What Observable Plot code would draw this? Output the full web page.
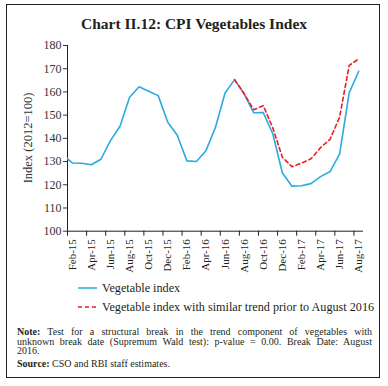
<!DOCTYPE html>
<html><head><meta charset="utf-8">
<script src="https://cdn.jsdelivr.net/npm/d3@7"></script>
<script src="https://cdn.jsdelivr.net/npm/@observablehq/plot@0.6"></script>
<style>
body{margin:0;background:#fff;font-family:"Liberation Serif",serif;color:#231f20;width:388px;height:386px;position:relative;overflow:hidden;}
#frame{position:absolute;left:6px;top:4px;width:372px;height:372px;border:1.4px solid #231f20;}
#title{position:absolute;left:0;width:388px;top:16px;text-align:center;font-weight:bold;font-size:15.5px;line-height:16px;}
#chart{position:absolute;left:0;top:36px;}
#ylabel{position:absolute;left:-42px;top:130.5px;width:140px;height:14px;line-height:14px;text-align:center;font-size:12.5px;color:#333;transform:rotate(-90deg);}
.leg{position:absolute;left:77px;font-size:12.2px;line-height:14px;display:flex;align-items:center;}
.leg svg{margin-right:4px;}
#note{position:absolute;left:17px;width:355px;top:327px;font-size:10px;line-height:9.6px;}
#note .j{text-align:justify;text-align-last:justify;}
#note .src{margin-top:3px;}
</style></head><body>
<div id="frame"></div>
<div id="title">Chart II.12: CPI Vegetables Index</div>
<div id="chart"></div>
<div id="ylabel"></div>
<div class="leg" id="leg1" style="top:281px"></div>
<div class="leg" id="leg2" style="top:300px"></div>
<div id="note">
<div class="j"><b>Note:</b> Test for a structural break in the trend component of vegetables with</div>
<div class="j">unknown break date (Supremum Wald test): p-value = 0.00. Break Date: August</div>
<div>2016.</div>
<div class="src"><b>Source:</b> CSO and RBI staff estimates.</div>
</div>
<script>
const months = ["Jan-15","Feb-15","Mar-15","Apr-15","May-15","Jun-15","Jul-15","Aug-15","Sep-15","Oct-15","Nov-15","Dec-15",
  "Jan-16","Feb-16","Mar-16","Apr-16","May-16","Jun-16","Jul-16","Aug-16","Sep-16","Oct-16","Nov-16","Dec-16",
  "Jan-17","Feb-17","Mar-17","Apr-17","May-17","Jun-17","Jul-17","Aug-17"];
const vegetableIndex = [133.0,129.4,129.3,128.6,131.0,139.0,145.2,157.7,162.2,160.3,158.4,146.9,
  141.3,130.3,130.0,134.7,144.8,159.5,165.3,159.2,151.0,151.1,142.0,125.2,
  119.4,119.6,120.5,123.5,125.7,133.3,159.6,168.9];
const trendStartMonth = "Jul-16";
const trendIndex = [165.3,159.2,152.3,154.1,144.5,131.9,127.8,129.3,131.2,136.0,139.6,149.2,171.4,174.2];
const xTickLabels = ["Feb-15","Apr-15","Jun-15","Aug-15","Oct-15","Dec-15","Feb-16","Apr-16","Jun-16","Aug-16","Oct-16","Dec-16","Feb-17","Apr-17","Jun-17","Aug-17"];
const yTicks = [100,110,120,130,140,150,160,170,180];
const yTitle = "Index (2012=100)";
const seriesNames = ["Vegetable index","Vegetable index with similar trend prior to August 2016"];
const colors = ["#29abe2","#ed1c24"];

const blue = months.map((m,i)=>({i, v: vegetableIndex[i]}));
const t0 = months.indexOf(trendStartMonth);
const red = trendIndex.map((v,k)=>({i: t0+k, v}));
const tickPos = xTickLabels.map(l => months.indexOf(l));
const bounds = tickPos.map(p => p - 0.5);

const chart = Plot.plot({
  width: 388, height: 244,
  marginLeft: 67, marginRight: 25, marginTop: 9, marginBottom: 49.3,
  style: {fontFamily: "Liberation Serif", background: "transparent", color: "#231f20", overflow: "visible"},
  x: {type: "linear", domain: [0.5, 31.5]},
  y: {domain: [100, 180]},
  marks: [
    Plot.axisY({ticks: yTicks, tickSize: 4, tickPadding: 2, fontSize: 12, color: "#333", label: null}),
    Plot.axisX({ticks: bounds, tickSize: 5, tickFormat: () => "", label: null}),
    Plot.axisX({ticks: tickPos, tickSize: 0, tickPadding: 8, tickRotate: -90, fontSize: 11,
      tickFormat: i => months[i], label: null}),
    Plot.ruleY([100], {stroke: "#231f20"}),
    Plot.ruleX([0.5], {stroke: "#231f20"}),
    Plot.line(blue, {x: "i", y: "v", stroke: colors[0], strokeWidth: 1.6, clip: true}),
    Plot.line(red, {x: "i", y: "v", stroke: colors[1], strokeWidth: 1.6, strokeDasharray: "4,3"})
  ]
});
document.getElementById("chart").append(chart);
document.getElementById("ylabel").textContent = yTitle;

function legendRow(id, name, color, dash) {
  const el = document.getElementById(id);
  el.innerHTML = `<svg width="21" height="6"><line x1="1" x2="20" y1="3" y2="3" stroke="${color}" stroke-width="1.5" ${dash ? 'stroke-dasharray="4,3"' : ''}/></svg><span>${name}</span>`;
}
legendRow("leg1", seriesNames[0], colors[0], false);
legendRow("leg2", seriesNames[1], colors[1], true);
</script>
</body></html>
